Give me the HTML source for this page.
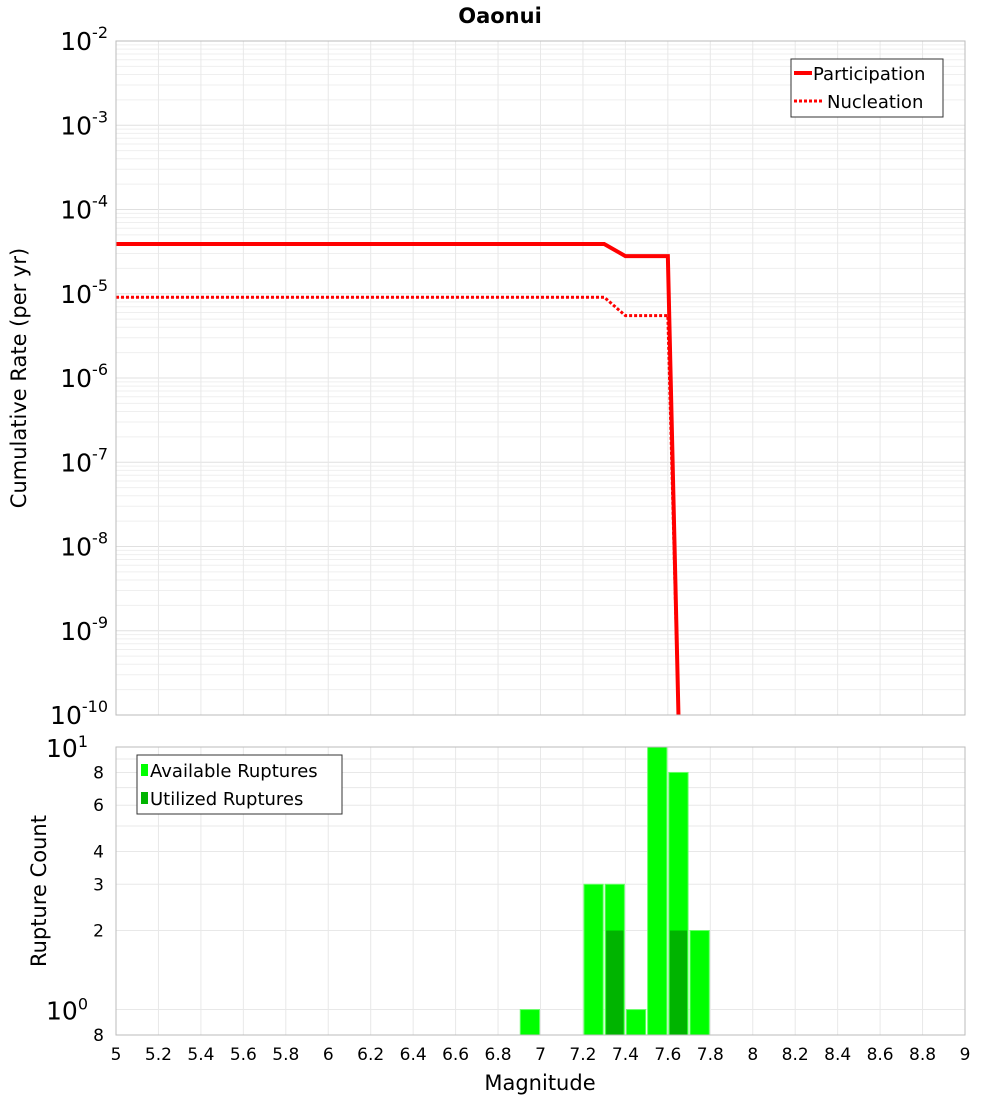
<!DOCTYPE html>
<html><head><meta charset="utf-8"><style>
body{margin:0;background:#fff;font-family:"DejaVu Sans","Liberation Sans",sans-serif}
svg text{font-family:"DejaVu Sans","Liberation Sans",sans-serif}
</style></head><body>
<svg id="c" width="1000" height="1100" xmlns="http://www.w3.org/2000/svg">
<text x="500" y="23" text-anchor="middle" font-size="21" font-weight="bold">Oaonui</text>
<g id="top"></g>
<g id="bot"></g>
<text transform="translate(26,378) rotate(-90)" text-anchor="middle" font-size="21">Cumulative Rate (per yr)</text>
<text transform="translate(46,891) rotate(-90)" text-anchor="middle" font-size="21">Rupture Count</text>
<text x="540" y="1090" text-anchor="middle" font-size="21">Magnitude</text>
</svg>
<script>
const partMag=[5,7.3,7.4,7.6,7.65];
const partRate=[3.9e-5,3.9e-5,2.8e-5,2.8e-5,1e-11];
const nuclMag=[5,7.3,7.4,7.6,7.65];
const nuclRate=[9.1e-6,9.1e-6,5.5e-6,5.5e-6,1e-11];
const binMag=[6.95,7.25,7.35,7.45,7.55,7.65,7.75];
const availCount=[1,3,3,1,10,8,2];
const usedCount=[0,0,2,0,0,2,0];
const xTicks=[5,5.2,5.4,5.6,5.8,6,6.2,6.4,6.6,6.8,7,7.2,7.4,7.6,7.8,8,8.2,8.4,8.6,8.8,9];
const topExp=[-10,-9,-8,-7,-6,-5,-4,-3,-2];
const botTicks=[[10,"10"],[8,"8"],[6,"6"],[4,"4"],[3,"3"],[2,"2"],[1,"10"],[0.8,"8"]];
const NS="http://www.w3.org/2000/svg";
const L=116,R=965,T1=41,B1=715,T2=747,B2=1035;
const x=m=>L+(m-5)/4*(R-L);
const y1=v=>T1+(-2-Math.log10(v))/8*(B1-T1);
const y2=v=>T2+(1-Math.log10(v))/(1-Math.log10(0.8))*(B2-T2);
function mk(p,t,a){const e=document.createElementNS(NS,t);for(const k in a)e.setAttribute(k,a[k]);p.appendChild(e);return e;}
const topG=document.getElementById('top'),botG=document.getElementById('bot');
for(let d=-10;d<-2;d++)for(let k=1;k<10;k++){const v=k*Math.pow(10,d);const g=mk(topG,'line',{x1:L,x2:R,y1:y1(v),y2:y1(v),stroke:k==1?'#e0e0e0':'#efefef','stroke-width':1});

}
xTicks.forEach(m=>{[topG,botG].forEach((p,i)=>{const g=mk(p,'line',{x1:x(m),x2:x(m),y1:i?T2:T1,y2:i?B2:B1,stroke:'#e8e8e8'});

});
const t=mk(botG,'text',{x:x(m),y:1060,'text-anchor':'middle','font-size':17});t.textContent=String(m);

});
topExp.forEach(e=>{const t=mk(topG,'text',{x:108,y:y1(Math.pow(10,e))+9,'text-anchor':'end','font-size':25});


t.innerHTML='10<tspan dy="-12" font-size="16">'+e+'</tspan>';});
function path(ms,vs){return ms.map((m,i)=>(i?'L':'M')+x(m)+','+Math.min(y1(vs[i]),B1)).join('');}
const nl=mk(topG,'path',{d:path(nuclMag,nuclRate),fill:'none',stroke:'#f00','stroke-width':3,'stroke-dasharray':'3,2'});


const pl=mk(topG,'path',{d:path(partMag,partRate),fill:'none',stroke:'#f00','stroke-width':4});


const f1=mk(topG,'rect',{x:L,y:T1,width:R-L,height:B1-T1,fill:'none',stroke:'#bbb'});


const lg=mk(topG,'g',{});


mk(lg,'rect',{x:791,y:59,width:152,height:58,fill:'#fff',stroke:'#333'});
mk(lg,'line',{x1:794,x2:812,y1:73,y2:73,stroke:'#f00','stroke-width':4});
mk(lg,'line',{x1:794,x2:822,y1:101,y2:101,stroke:'#f00','stroke-width':3,'stroke-dasharray':'3,2'});
let t=mk(lg,'text',{x:813,y:80,'font-size':18});t.textContent='Participation';
t=mk(lg,'text',{x:827,y:108,'font-size':18});t.textContent='Nucleation';
[1,2,3,4,5,6,7,8,9,10].forEach(v=>{const g=mk(botG,'line',{x1:L,x2:R,y1:y2(v),y2:y2(v),stroke:'#e8e8e8'});

});
botTicks.forEach(([v,s])=>{const big=(v==10||v==1);const tt=mk(botG,'text',{x:big?88:104,y:y2(v)+(big?10:6),'text-anchor':'end','font-size':big?25:17});


tt.innerHTML=big?s+'<tspan dy="-10" font-size="16">'+(v==10?1:0)+'</tspan>':s;});
const bw=(x(5.1)-x(5))-2;
binMag.forEach((m,i)=>{const r=mk(botG,'rect',{x:x(m)-bw/2,y:y2(availCount[i]),width:bw,height:B2-y2(availCount[i]),fill:'#00ff00',stroke:'#66ff66','stroke-width':1});


if(usedCount[i]>0){const u=mk(botG,'rect',{x:x(m)-bw/2+1,y:y2(usedCount[i]),width:bw-2,height:B2-y2(usedCount[i]),fill:'#00b400'});

}});
const f2=mk(botG,'rect',{x:L,y:T2,width:R-L,height:B2-T2,fill:'none',stroke:'#bbb'});


const lb=mk(botG,'g',{});


mk(lb,'rect',{x:137,y:755,width:205,height:59,fill:'#fff',stroke:'#333'});
mk(lb,'rect',{x:141,y:764,width:7,height:12,fill:'#00ff00'});
mk(lb,'rect',{x:141,y:792,width:7,height:12,fill:'#00b400'});
t=mk(lb,'text',{x:150,y:777,'font-size':18});t.textContent='Available Ruptures';
t=mk(lb,'text',{x:150,y:805,'font-size':18});t.textContent='Utilized Ruptures';
</script>
</body></html>
